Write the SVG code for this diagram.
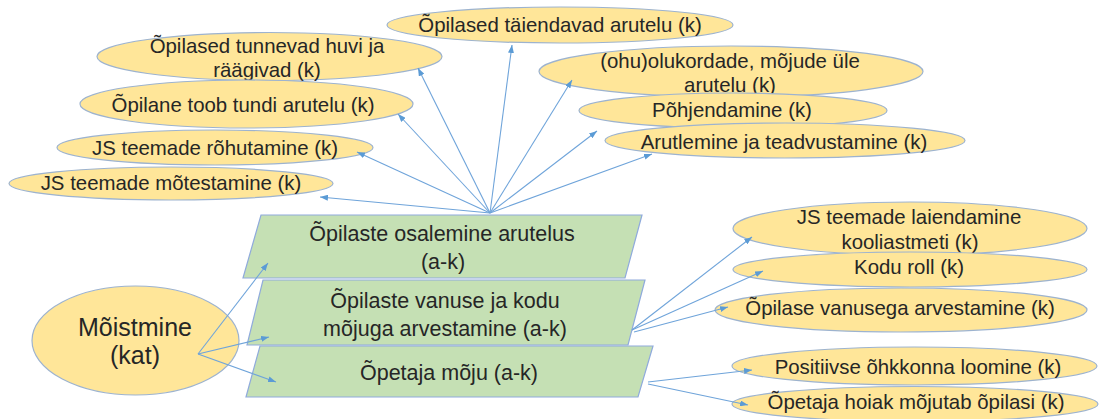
<svg xmlns="http://www.w3.org/2000/svg" width="1100" height="419" viewBox="0 0 1100 419">
<style>
.el{fill:#FFE699;stroke:#9DB3CF;stroke-width:1.2}
.pg{fill:#C5E0B4;stroke:#8FAADC;stroke-width:1.2}
.t{font-family:"Liberation Sans",Arial,sans-serif;font-size:20.4px;fill:#262626;text-anchor:middle}
.tp{font-family:"Liberation Sans",Arial,sans-serif;font-size:21.5px;fill:#262626;text-anchor:middle}
.tb{font-family:"Liberation Sans",Arial,sans-serif;font-size:25px;fill:#262626;text-anchor:middle}
.c{stroke:#6FA4DA;stroke-width:1.1;fill:none;marker-end:url(#ah)}
</style>
<defs>
<marker id="ah" markerWidth="8" markerHeight="6" refX="8" refY="3" orient="auto" markerUnits="userSpaceOnUse">
<path d="M0,0 L8,3 L0,6 z" fill="#5B9BD5"/>
</marker>
</defs>
<rect width="1100" height="419" fill="#ffffff"/>

<g id="n-taiendavad"><ellipse class="el" cx="560" cy="25" rx="173" ry="18"/><text class="t" x="560" y="32">Õpilased täiendavad arutelu (k)</text></g>
<g id="n-tunnevad"><ellipse class="el" cx="269.5" cy="56.5" rx="172.5" ry="24"/><text class="t" x="267" y="53">Õpilased tunnevad huvi ja</text><text class="t" x="267" y="77">räägivad (k)</text></g>
<g id="n-toob"><ellipse class="el" cx="246.5" cy="104" rx="166.5" ry="24"/><text class="t" x="243" y="112">Õpilane toob tundi arutelu (k)</text></g>
<g id="n-rohutamine"><ellipse class="el" cx="215" cy="147.5" rx="158" ry="17.5"/><text class="t" x="215" y="155">JS teemade rõhutamine (k)</text></g>
<g id="n-motestamine"><ellipse class="el" cx="171" cy="183.5" rx="162" ry="16.5"/><text class="t" x="171" y="190">JS teemade mõtestamine (k)</text></g>
<g id="n-ohu"><ellipse class="el" cx="731" cy="71.5" rx="192" ry="25.5"/><text class="t" x="730" y="68">(ohu)olukordade, mõjude üle</text><text class="t" x="730" y="92">arutelu (k)</text></g>
<g id="n-pohjendamine"><ellipse class="el" cx="733" cy="110.5" rx="154" ry="17.5"/><text class="t" x="732" y="117">Põhjendamine (k)</text></g>
<g id="n-arutlemine"><ellipse class="el" cx="785" cy="140.5" rx="180" ry="17.5"/><text class="t" x="784" y="149">Arutlemine ja teadvustamine (k)</text></g>

<g id="n-laiendamine"><ellipse class="el" cx="910" cy="228.5" rx="177" ry="26.5"/><text class="t" x="909" y="224">JS teemade laiendamine</text><text class="t" x="910" y="249">kooliastmeti (k)</text></g>
<g id="n-kodu"><ellipse class="el" cx="910" cy="269.5" rx="177" ry="17.5"/><text class="t" x="909" y="274">Kodu roll (k)</text></g>
<g id="n-vanusega"><ellipse class="el" cx="901" cy="310" rx="186" ry="22"/><text class="t" x="900" y="315">Õpilase vanusega arvestamine (k)</text></g>
<g id="n-positiivse"><ellipse class="el" cx="914.5" cy="366" rx="182.5" ry="19"/><text class="t" x="918" y="374">Positiivse õhkkonna loomine (k)</text></g>
<g id="n-hoiak"><ellipse class="el" cx="915" cy="404" rx="183" ry="17.5"/><text class="t" x="916" y="409">Õpetaja hoiak mõjutab õpilasi (k)</text></g>

<g id="n-osalemine"><polygon class="pg" points="261,215 642,215 625,278 243,278"/><text class="tp" x="442" y="241">Õpilaste osalemine arutelus</text><text class="tp" x="443" y="269">(a-k)</text></g>
<g id="n-vanuse"><polygon class="pg" points="263,280 645,280 628,345 247,345"/><text class="tp" x="445" y="308">Õpilaste vanuse ja kodu</text><text class="tp" x="445" y="336">mõjuga arvestamine (a-k)</text></g>
<g id="n-mojuopetaja"><polygon class="pg" points="260,346 653,346 638,397 246,397"/><text class="tp" x="449" y="380">Õpetaja mõju (a-k)</text></g>

<g id="n-moistmine"><ellipse class="el" cx="135.5" cy="340.5" rx="103.5" ry="54.5"/><text class="tb" x="135" y="336">Mõistmine</text><text class="tb" x="135" y="364">(kat)</text></g>

<g id="connectors">
<line class="c" x1="490" y1="213" x2="418" y2="68"/>
<line class="c" x1="490" y1="213" x2="512" y2="45"/>
<line class="c" x1="490" y1="213" x2="398" y2="114"/>
<line class="c" x1="490" y1="213" x2="357" y2="152"/>
<line class="c" x1="490" y1="213" x2="320" y2="197"/>
<line class="c" x1="490" y1="213" x2="572" y2="80"/>
<line class="c" x1="490" y1="213" x2="597" y2="131"/>
<line class="c" x1="490" y1="213" x2="652" y2="154"/>
<line class="c" x1="198" y1="354" x2="268" y2="263"/>
<line class="c" x1="198" y1="354" x2="269" y2="337"/>
<line class="c" x1="198" y1="354" x2="276" y2="382"/>
<line class="c" x1="632" y1="330" x2="752" y2="237"/>
<line class="c" x1="632" y1="330" x2="763" y2="271"/>
<line class="c" x1="634" y1="332" x2="728" y2="307"/>
<line class="c" x1="648" y1="382" x2="752" y2="370"/>
<line class="c" x1="648" y1="384" x2="748" y2="405"/>
</g>
</svg>
